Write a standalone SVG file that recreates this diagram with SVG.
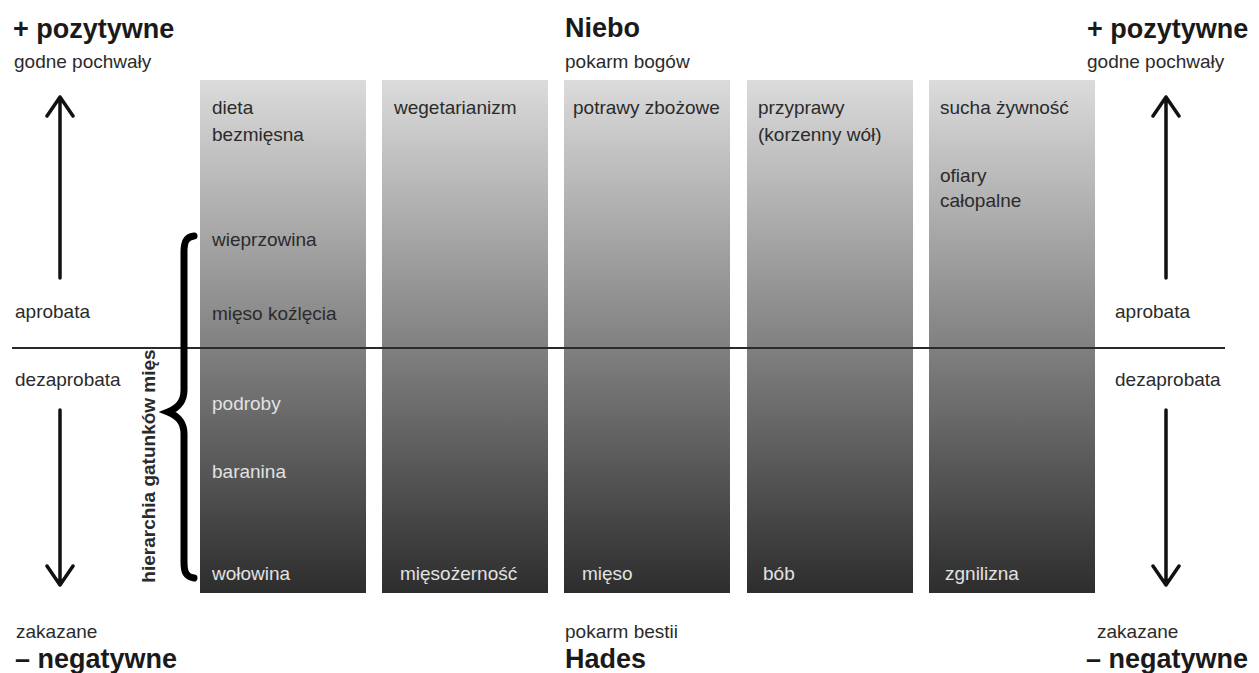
<svg xmlns="http://www.w3.org/2000/svg" width="1259" height="673" viewBox="0 0 1259 673">
<style>
.t{font-family:"Liberation Sans",Arial,sans-serif;font-size:19px;fill:#2b2b2b}
.l{fill:#e2e2e2}
.h{font-family:"Liberation Sans",Arial,sans-serif;font-size:27px;font-weight:bold;fill:#1a1a1a}
.col{fill:url(#g)}
.arr{stroke:#111;stroke-width:3.5;fill:none;stroke-linecap:round;stroke-linejoin:round}
</style>
<defs>
<linearGradient id="g" x1="0" y1="0" x2="0" y2="1">
<stop offset="0" stop-color="#dbdbdb"/>
<stop offset="0.5" stop-color="#848484"/>
<stop offset="1" stop-color="#2d2d2d"/>
</linearGradient>
</defs>
<rect width="1259" height="673" fill="#fff"/>

<g id="columns">
<g id="col1"><rect class="col" x="200" y="80" width="166" height="513"/>
<text class="t" x="212" y="114">dieta</text>
<text class="t" x="212" y="141">bezmięsna</text>
<text class="t" x="212" y="246">wieprzowina</text>
<text class="t" x="212" y="320">mięso koźlęcia</text>
<text class="t l" x="212" y="410">podroby</text>
<text class="t l" x="212" y="478">baranina</text>
<text class="t l" x="212" y="580">wołowina</text>
</g>
<g id="col2"><rect class="col" x="382" y="80" width="166" height="513"/>
<text class="t" x="394" y="114">wegetarianizm</text>
<text class="t l" x="400" y="580">mięsożerność</text>
</g>
<g id="col3"><rect class="col" x="564" y="80" width="166" height="513"/>
<text class="t" x="573" y="114">potrawy zbożowe</text>
<text class="t l" x="582" y="580">mięso</text>
</g>
<g id="col4"><rect class="col" x="747" y="80" width="166" height="513"/>
<text class="t" x="758" y="114">przyprawy</text>
<text class="t" x="758" y="141">(korzenny wół)</text>
<text class="t l" x="763" y="580">bób</text>
</g>
<g id="col5"><rect class="col" x="929" y="80" width="166" height="513"/>
<text class="t" x="940" y="114">sucha żywność</text>
<text class="t" x="940" y="182">ofiary</text>
<text class="t" x="940" y="207">całopalne</text>
<text class="t l" x="945" y="580">zgnilizna</text>
</g>
</g>

<g id="connectors">
<line x1="12" y1="348" x2="1225" y2="348" stroke="#2a2a2a" stroke-width="1.8"/>
<path class="arr" d="M60 278V97M47 116L60 97L73 116"/>
<path class="arr" d="M60 410V585M47 566L60 585L73 566"/>
<path class="arr" d="M1166 278V97M1153 116L1166 97L1179 116"/>
<path class="arr" d="M1166 410V585M1153 566L1166 585L1179 566"/>
<path id="brace" d="M194 236C186 237 184 242 184 252V390C184 402 178 408 168 412C178 416 184 422 184 434V562C184 572 186 577 194 578" fill="none" stroke="#000" stroke-width="7" stroke-linecap="round"/>
</g>

<g id="labels">
<text class="h" x="13" y="38">+ pozytywne</text>
<text class="t" x="14" y="68">godne pochwały</text>
<text class="t" x="15" y="318">aprobata</text>
<text class="t" x="15" y="386">dezaprobata</text>
<text class="t" x="16" y="638">zakazane</text>
<text class="h" x="15" y="668">– negatywne</text>

<text class="h" x="565" y="37">Niebo</text>
<text class="t" x="565" y="68">pokarm bogów</text>
<text class="t" x="565" y="638">pokarm bestii</text>
<text class="h" x="565" y="668">Hades</text>

<text class="h" x="1087" y="38">+ pozytywne</text>
<text class="t" x="1087" y="68">godne pochwały</text>
<text class="t" x="1115" y="318">aprobata</text>
<text class="t" x="1115" y="386">dezaprobata</text>
<text class="t" x="1097" y="638">zakazane</text>
<text class="h" x="1086" y="668">– negatywne</text>

<text class="t" transform="translate(155,466) rotate(-90)" text-anchor="middle" font-weight="bold" font-size="17" fill="#1a1a1a">hierarchia gatunków mięs</text>
</g>
</svg>
